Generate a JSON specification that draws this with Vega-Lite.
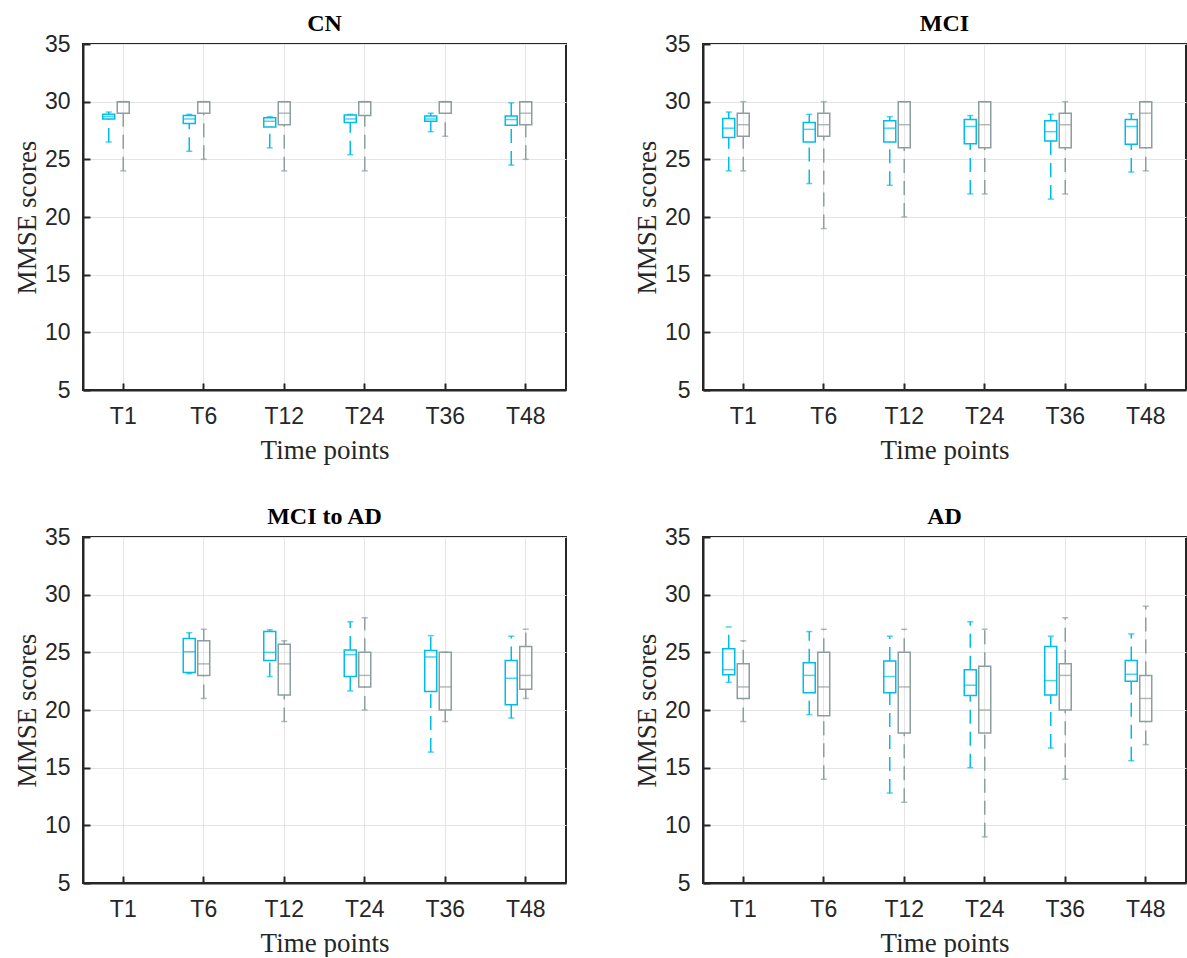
{
  "$schema": "https://vega.github.io/schema/vega-lite/v6.json",
  "background": "white",
  "padding": {"left": 12, "top": 11, "right": 0, "bottom": 0},
  "data": {"values": [
    {"group":"CN","time":"T1","series":"pred","min":26.5,"q1":28.5,"median":28.7,"q3":28.9,"max":29.1},
    {"group":"CN","time":"T1","series":"actual","min":24,"q1":29,"median":30,"q3":30,"max":30},
    {"group":"CN","time":"T6","series":"pred","min":25.7,"q1":28.1,"median":28.5,"q3":28.8,"max":28.9},
    {"group":"CN","time":"T6","series":"actual","min":25,"q1":29,"median":30,"q3":30,"max":30},
    {"group":"CN","time":"T12","series":"pred","min":26,"q1":27.8,"median":28.3,"q3":28.6,"max":28.7},
    {"group":"CN","time":"T12","series":"actual","min":24,"q1":28,"median":29,"q3":30,"max":30},
    {"group":"CN","time":"T24","series":"pred","min":25.4,"q1":28.2,"median":28.5,"q3":28.85,"max":28.9},
    {"group":"CN","time":"T24","series":"actual","min":24,"q1":28.8,"median":30,"q3":30,"max":30},
    {"group":"CN","time":"T36","series":"pred","min":27.4,"q1":28.3,"median":28.5,"q3":28.75,"max":29},
    {"group":"CN","time":"T36","series":"actual","min":27,"q1":29,"median":30,"q3":30,"max":30},
    {"group":"CN","time":"T48","series":"pred","min":24.5,"q1":27.95,"median":28.45,"q3":28.75,"max":29.9},
    {"group":"CN","time":"T48","series":"actual","min":25,"q1":28,"median":29,"q3":30,"max":30},
    {"group":"MCI","time":"T1","series":"pred","min":24,"q1":26.9,"median":27.7,"q3":28.55,"max":29.1},
    {"group":"MCI","time":"T1","series":"actual","min":24,"q1":27,"median":28,"q3":29,"max":30},
    {"group":"MCI","time":"T6","series":"pred","min":22.9,"q1":26.5,"median":27.6,"q3":28.2,"max":28.9},
    {"group":"MCI","time":"T6","series":"actual","min":19,"q1":27,"median":28,"q3":29,"max":30},
    {"group":"MCI","time":"T12","series":"pred","min":22.75,"q1":26.5,"median":27.7,"q3":28.35,"max":28.7},
    {"group":"MCI","time":"T12","series":"actual","min":20,"q1":26,"median":28,"q3":30,"max":30},
    {"group":"MCI","time":"T24","series":"pred","min":22,"q1":26.35,"median":27.85,"q3":28.45,"max":28.8},
    {"group":"MCI","time":"T24","series":"actual","min":22,"q1":26,"median":28,"q3":30,"max":30},
    {"group":"MCI","time":"T36","series":"pred","min":21.55,"q1":26.6,"median":27.4,"q3":28.35,"max":28.9},
    {"group":"MCI","time":"T36","series":"actual","min":22,"q1":26,"median":28,"q3":29,"max":30},
    {"group":"MCI","time":"T48","series":"pred","min":23.9,"q1":26.3,"median":27.85,"q3":28.45,"max":28.95},
    {"group":"MCI","time":"T48","series":"actual","min":24,"q1":26,"median":29,"q3":30,"max":30},
    {"group":"MCI to AD","time":"T6","series":"pred","min":23.15,"q1":23.25,"median":25.05,"q3":26.2,"max":26.7},
    {"group":"MCI to AD","time":"T6","series":"actual","min":21,"q1":23,"median":24,"q3":26,"max":27},
    {"group":"MCI to AD","time":"T12","series":"pred","min":22.9,"q1":24.3,"median":25,"q3":26.8,"max":26.95},
    {"group":"MCI to AD","time":"T12","series":"actual","min":19,"q1":21.3,"median":24,"q3":25.7,"max":26},
    {"group":"MCI to AD","time":"T24","series":"pred","min":21.65,"q1":22.9,"median":24.8,"q3":25.2,"max":27.65},
    {"group":"MCI to AD","time":"T24","series":"actual","min":20,"q1":22,"median":23,"q3":25,"max":28},
    {"group":"MCI to AD","time":"T36","series":"pred","min":16.35,"q1":21.6,"median":24.6,"q3":25.15,"max":26.45},
    {"group":"MCI to AD","time":"T36","series":"actual","min":19,"q1":20,"median":22,"q3":25,"max":25},
    {"group":"MCI to AD","time":"T48","series":"pred","min":19.3,"q1":20.45,"median":22.75,"q3":24.3,"max":26.4},
    {"group":"MCI to AD","time":"T48","series":"actual","min":21,"q1":21.8,"median":23,"q3":25.5,"max":27},
    {"group":"AD","time":"T1","series":"pred","min":22.4,"q1":23.05,"median":23.5,"q3":25.3,"max":27.2},
    {"group":"AD","time":"T1","series":"actual","min":19,"q1":21,"median":22,"q3":24,"max":26},
    {"group":"AD","time":"T6","series":"pred","min":19.6,"q1":21.5,"median":23,"q3":24.1,"max":26.8},
    {"group":"AD","time":"T6","series":"actual","min":14,"q1":19.5,"median":22,"q3":25,"max":27},
    {"group":"AD","time":"T12","series":"pred","min":12.8,"q1":21.5,"median":22.9,"q3":24.25,"max":26.4},
    {"group":"AD","time":"T12","series":"actual","min":12,"q1":18,"median":22,"q3":25,"max":27},
    {"group":"AD","time":"T24","series":"pred","min":15,"q1":21.25,"median":22.15,"q3":23.5,"max":27.65},
    {"group":"AD","time":"T24","series":"actual","min":9,"q1":18,"median":20,"q3":23.8,"max":27},
    {"group":"AD","time":"T36","series":"pred","min":16.7,"q1":21.3,"median":22.55,"q3":25.5,"max":26.4},
    {"group":"AD","time":"T36","series":"actual","min":14,"q1":20,"median":23,"q3":24,"max":28},
    {"group":"AD","time":"T48","series":"pred","min":15.6,"q1":22.5,"median":23.1,"q3":24.3,"max":26.6},
    {"group":"AD","time":"T48","series":"actual","min":17,"q1":19,"median":21,"q3":23,"max":29}
  ]},
  "facet": {
    "field": "group", "type": "nominal",
    "sort": ["CN", "MCI", "MCI to AD", "AD"],
    "header": {"title": null, "labelFont": "Liberation Serif", "labelFontWeight": "bold", "labelFontSize": 24, "labelColor": "black", "labelPadding": -3}
  },
  "columns": 2,
  "spacing": {"column": 137, "row": 147},
  "bounds": "flush",
  "resolve": {"axis": {"x": "independent", "y": "independent"}},
  "spec": {
    "width": 483,
    "height": 346,
    "encoding": {
      "x": {"field": "time", "type": "nominal",
        "scale": {"domain": ["T1","T6","T12","T24","T36","T48"], "paddingInner": 0, "paddingOuter": 0},
        "axis": {"title": "Time points", "labelAngle": 0, "bandPosition": 0.5, "grid": true, "labelPadding": 22, "titlePadding": 9}},
      "xOffset": {"field": "series", "type": "nominal",
        "scale": {"domain": ["pred", "actual"], "range": [19.75, 46.25], "paddingInner": 0.172, "paddingOuter": 0}},
      "color": {"field": "series", "type": "nominal",
        "scale": {"domain": ["pred", "actual"], "range": ["#00bdea", "#8e9d9d"]}, "legend": null}
    },
    "layer": [
      {"mark": {"type": "rule", "strokeDash": [14, 8], "strokeWidth": 1.5},
       "encoding": {"y": {"field": "min", "type": "quantitative",
          "scale": {"domain": [5, 35], "nice": false, "zero": false},
          "axis": {"title": "MMSE scores", "values": [5,10,15,20,25,30,35], "labelPadding": 20, "titlePadding": 3, "grid": true}},
        "y2": {"field": "q1"}}},
      {"mark": {"type": "rule", "strokeDash": [14, 8], "strokeWidth": 1.5},
       "encoding": {"y": {"field": "q3", "type": "quantitative"}, "y2": {"field": "max"}}},
      {"mark": {"type": "bar", "width": 12, "fill": "white", "fillOpacity": 0, "strokeWidth": 1.5},
       "encoding": {"y": {"field": "q1", "type": "quantitative"}, "y2": {"field": "q3"},
         "stroke": {"field": "series", "type": "nominal", "scale": {"domain": ["pred", "actual"], "range": ["#00bdea", "#8e9d9d"]}, "legend": null},
         "color": {"value": null}}},
      {"mark": {"type": "tick", "orient": "horizontal", "size": 12, "thickness": 1.5},
       "encoding": {"y": {"field": "median", "type": "quantitative"}}},
      {"mark": {"type": "tick", "orient": "horizontal", "size": 6, "thickness": 1.5},
       "encoding": {"y": {"field": "min", "type": "quantitative"}}},
      {"mark": {"type": "tick", "orient": "horizontal", "size": 6, "thickness": 1.5},
       "encoding": {"y": {"field": "max", "type": "quantitative"}}}
    ]
  },
  "config": {
    "view": {"stroke": "#262626", "strokeWidth": 2},
    "axis": {"gridColor": "#e5e5e5", "gridWidth": 1, "gridOpacity": 1, "domainColor": "#262626", "domainWidth": 2,
      "tickColor": "#262626", "tickWidth": 2, "tickSize": -7,
      "labelFont": "Liberation Sans", "labelFontSize": 23, "labelColor": "#262626",
      "titleFont": "Liberation Serif", "titleFontSize": 27, "titleFontWeight": "normal", "titleColor": "#262626"}
  }
}
